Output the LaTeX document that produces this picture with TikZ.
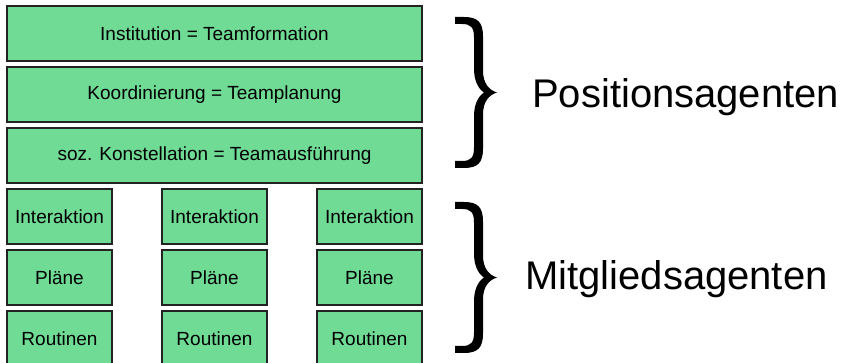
\documentclass[tikz,border=0pt]{standalone}
\usepackage{fontspec}
\setmainfont{Liberation Sans}
\definecolor{boxfill}{RGB}{112,219,148}
\definecolor{boxline}{RGB}{35,35,35}
\begin{document}
\begin{tikzpicture}[x=1pt,y=1pt,
  box/.style={draw=boxline, line width=1.3pt, fill=boxfill, inner sep=0pt,
    font=\fontsize{19}{22}\selectfont, text=black},
  widebox/.style={box, minimum width=415pt, minimum height=55pt},
  smallbox/.style={box, minimum width=105pt, minimum height=55pt},
  biglabel/.style={font=\fontsize{40}{46}\selectfont, inner sep=0pt, anchor=base west},
  bracefill/.style={fill=black, draw=none}]
\useasboundingbox (0,0) rectangle (850,363);
% wide boxes
\node[widebox] (inst) at (214.5,329.5) {Institution = Teamformation};
\node[widebox] (koord) at (214.5,268.5) {Koordinierung = Teamplanung};
\node[widebox] (soz) at (214.5,207.5) {soz. Konstellation = Teamausführung};
% small boxes
\foreach \c/\x in {a/59.5,b/214.5,c/369.5}{
  \node[smallbox] (inter\c) at (\x,146.5) {Interaktion};
  \node[smallbox] (plan\c) at (\x,85.5) {Pläne};
  \node[smallbox] (rout\c) at (\x,24.5) {Routinen};
}
% braces
\foreach \ty/\nm in {270.5/up,85.5/low}{
  \coordinate (tip\nm) at (497,\ty);
  \fill[bracefill, shift={(tip\nm)}]
    (-42,75.5) -- (-33,75.5) .. controls (-19,75.5) and (-14,70) .. (-14,56)
    -- (-14,22) .. controls (-14,9) and (-8,2.5) .. (0,0)
    .. controls (-8,-2.5) and (-14,-9) .. (-14,-22)
    -- (-14,-56) .. controls (-14,-70) and (-19,-75.5) .. (-33,-75.5)
    -- (-42,-75.5) -- (-42,-68.5) -- (-35,-68.5)
    .. controls (-26,-68.5) and (-23,-65) .. (-23,-55)
    -- (-23,-24) .. controls (-23,-12) and (-19,-4) .. (-13,0)
    .. controls (-19,4) and (-23,12) .. (-23,24)
    -- (-23,55) .. controls (-23,65) and (-26,68.5) .. (-35,68.5)
    -- (-42,68.5) -- cycle;
}
\node[biglabel] (pos) at (532,255) {Positionsagenten};
\node[biglabel] (mit) at (525,73) {Mitgliedsagenten};
\end{tikzpicture}
\end{document}
